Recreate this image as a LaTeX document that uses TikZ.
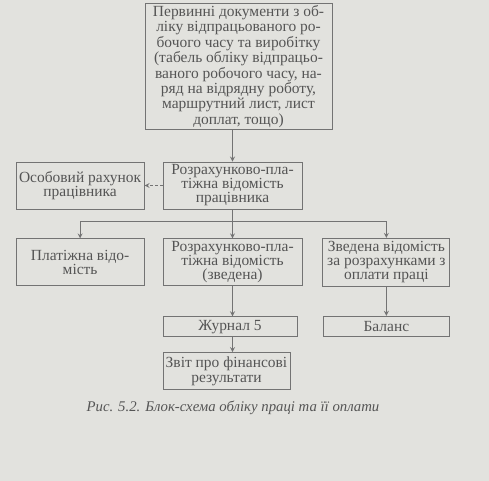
\documentclass[tikz,border=0pt]{standalone}
\usepackage{fontspec}
\setmainfont{Liberation Serif}
\usepackage{xcolor}
\definecolor{paper}{RGB}{226, 226, 222}
\definecolor{ink}{RGB}{85, 85, 85}
\definecolor{frame}{RGB}{115, 115, 115}
\usepackage{tikz}
\usetikzlibrary{arrows, positioning, calc}
\tikzstyle{block} = [rectangle, draw=frame, line width=0.6pt, text=ink, align=center, inner sep=1pt, font=\fontsize{11}{10}\selectfont]
\tikzstyle{arrow} = [draw=frame, line width=0.6pt, ->, >=stealth]
\tikzstyle{link} = [draw=frame, line width=0.6pt]

\begin{document}
\begin{tikzpicture}[x=0.025cm, y=-0.025cm]
    \fill[paper] (0,0) rectangle (489,481);

    \node[block, minimum width=3.475cm, minimum height=1.175cm] (calc) at (232.5,185.5) {Розрахунково-пла-\\тіжна відомість\\працівника};
    \node[block, font=\fontsize{11}{11}\selectfont, minimum width=4.675cm, minimum height=3cm, above=0.8cm of calc, xshift=0.15cm] (primary) {Первинні документи з об-\\ліку відпрацьованого ро-\\бочого часу та виробітку\\(табель обліку відпрацьо-\\ваного робочого часу, на-\\ряд на відрядну роботу,\\маршрутний лист, лист\\доплат, тощо)};
    \node[block, minimum width=3.2cm, minimum height=1.175cm, left=0.45cm of calc] (personal) {Особовий рахунок\\працівника};
    \node[block, minimum width=3.475cm, minimum height=1.175cm, below=0.725cm of calc] (summary) {Розрахунково-пла-\\тіжна відомість\\(зведена)};
    \node[block, minimum width=3.2cm, minimum height=1.175cm, below=0.725cm of personal] (payroll) {Платіжна відо-\\мість};
    \node[block, minimum width=3.175cm, minimum height=1.2cm, right=0.5cm of summary] (ledger) {Зведена відомість\\за розрахунками з\\оплати праці};
    \node[block, minimum width=3.35cm, minimum height=0.5cm, below=0.75cm of summary.south west, anchor=north west] (journal) {Журнал 5};
    \node[block, minimum width=3.15cm, minimum height=0.5cm, below=0.725cm of ledger] (balance) {Баланс};
    \node[block, font=\fontsize{11}{11}\selectfont, minimum width=3.175cm, minimum height=0.925cm, below=0.375cm of journal.south west, anchor=north west] (report) {Звіт про фінансові\\результати};
    \node[text=ink, font=\fontsize{10.5}{12}\selectfont\itshape] (caption) at (233,408) {Рис. 5.2. Блок-схема обліку праці та її оплати};

    \coordinate (split) at (232.5,221);

    \draw[arrow] (primary.south -| calc.north) -- (calc.north);
    \draw[arrow, dash pattern=on 2pt off 1.5pt] (calc) -- (personal);
    \draw[link] (calc.south) -- (split);
    \draw[arrow] (split) -| (payroll);
    \draw[arrow] (split) -- (summary);
    \draw[arrow] (split) -| (ledger);
    \draw[arrow] (summary.south) -- (summary.south |- journal.north);
    \draw[arrow] (journal.south -| summary.south) -- (report.north -| summary.south);
    \draw[arrow] (ledger) -- (balance);
\end{tikzpicture}
\end{document}
